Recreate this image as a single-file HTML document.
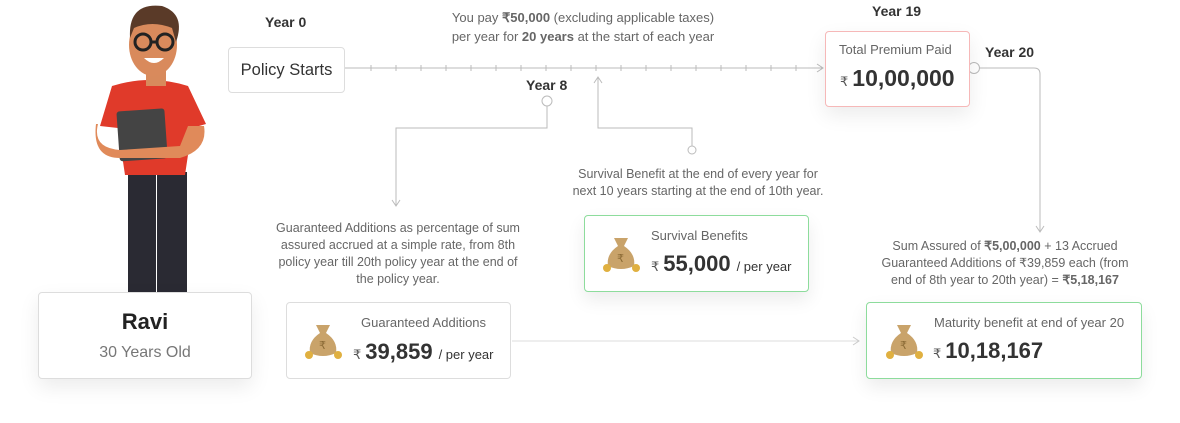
<!DOCTYPE html>
<html><head><meta charset="utf-8"><style>
body{margin:0;width:1180px;height:423px;background:#fff;position:relative;overflow:hidden;font-family:"Liberation Sans",sans-serif;color:#333}
.a{position:absolute}
.t{position:absolute;color:#666;font-size:12.5px;line-height:17px;text-align:center}
.y{position:absolute;font-weight:bold;font-size:14px;color:#333}
.box{position:absolute;background:#fff;border:1.5px solid #ddd;border-radius:4px;box-sizing:border-box}
.g{border-color:#8ddc9c;box-shadow:0 8px 18px rgba(0,0,0,.08)}
.lab{position:absolute;font-size:13px;color:#666}
.val{position:absolute;font-weight:bold;color:#333;white-space:nowrap}
.val small{font-size:13px;font-weight:normal;color:#555;margin-right:4px}
.val i{font-style:normal;font-size:13px;font-weight:normal;color:#333;margin-left:6px}
</style></head><body>
<svg class="a" style="left:0;top:0" width="1180" height="423">
<g stroke="#bbb" stroke-width="1" fill="none">
<line x1="345" y1="68" x2="822" y2="68"/>
<path d="M817 64 L823 68 L817 72"/>
<path d="M547 106 V128 H396 V205"/><path d="M392 200 L396 206 L400 200"/>
<path d="M598 78 V128 H692 V146"/><path d="M594 83 L598 77 L602 83"/>
<circle cx="692" cy="150" r="4" fill="#fff"/>
<circle cx="547" cy="101" r="5" fill="#fff"/>
<path d="M979 68 H1034 Q1040 68 1040 74 V231"/><path d="M1036 226 L1040 232 L1044 226"/>
<circle cx="974" cy="68" r="5.5" fill="#fff"/>
<line x1="512" y1="341" x2="858" y2="341" stroke="#ddd"/><path d="M853 337 L859 341 L853 345" stroke="#ccc"/>
</g>
<g stroke="#bbb">
<line x1="371" y1="65" x2="371" y2="71"/><line x1="396" y1="65" x2="396" y2="71"/><line x1="421" y1="65" x2="421" y2="71"/><line x1="446" y1="65" x2="446" y2="71"/><line x1="471" y1="65" x2="471" y2="71"/><line x1="496" y1="65" x2="496" y2="71"/><line x1="521" y1="65" x2="521" y2="71"/><line x1="546" y1="65" x2="546" y2="71"/><line x1="571" y1="65" x2="571" y2="71"/><line x1="596" y1="65" x2="596" y2="71"/><line x1="621" y1="65" x2="621" y2="71"/><line x1="646" y1="65" x2="646" y2="71"/><line x1="671" y1="65" x2="671" y2="71"/><line x1="696" y1="65" x2="696" y2="71"/><line x1="721" y1="65" x2="721" y2="71"/><line x1="746" y1="65" x2="746" y2="71"/><line x1="771" y1="65" x2="771" y2="71"/><line x1="796" y1="65" x2="796" y2="71"/>
</g>
<!-- character -->
<g>
<rect x="128" y="172" width="28" height="122" fill="#2a2a33"/><rect x="157" y="172" width="30" height="122" fill="#2a2a33"/>
<path d="M112 86 Q150 74 188 86 L206 124 L192 128 L185 175 L125 175 L118 128 L100 126 Z" fill="#e03a2a"/>
<rect x="146" y="70" width="20" height="16" fill="#d88a5c"/>
<ellipse cx="153" cy="45" rx="24" ry="31" fill="#d98a5c"/>
<path d="M130 38 Q128 2 162 6 Q186 14 176 42 L172 28 Q152 20 134 28 Z" fill="#5a3a28"/>
<g stroke="#222" stroke-width="3" fill="none"><circle cx="143" cy="42" r="8"/><circle cx="165" cy="42" r="8"/><line x1="151" y1="42" x2="157" y2="42"/></g>
<path d="M144 58 Q154 68 164 58 Z" fill="#fff"/>
<rect x="118" y="110" width="48" height="50" rx="3" fill="#444" transform="rotate(-4 140 134)"/>
<path d="M98 124 Q92 148 120 150 L180 146 L188 126 L204 126 Q208 150 180 158 L120 158 Q92 158 96 124Z" fill="#e08a5a"/>
</g>
</svg>
<div class="y" style="left:265px;top:14px">Year 0</div>
<div class="box" style="left:228px;top:47px;width:117px;height:46px;font-size:16.5px;line-height:44px;text-align:center;color:#333">Policy Starts</div>
<div class="t" style="left:400px;top:8px;width:366px;font-size:13px;line-height:19px">You pay <b>₹50,000</b> (excluding applicable taxes)<br>per year for <b>20 years</b> at the start of each year</div>
<div class="y" style="left:526px;top:77px">Year 8</div>
<div class="y" style="left:872px;top:3px">Year 19</div>
<div class="y" style="left:985px;top:44px">Year 20</div>
<div class="box" style="left:825px;top:31px;width:145px;height:76px;border-color:#f6b8b8;box-shadow:0 8px 20px rgba(0,0,0,.08)"></div>
<div class="lab" style="left:839px;top:42px">Total Premium Paid</div>
<div class="val" style="left:840px;top:65px;font-size:23px"><small>₹</small>10,00,000</div>
<div class="t" style="left:548px;top:166px;width:300px">Survival Benefit at the end of every year for<br>next 10 years starting at the end of 10th year.</div>
<div class="t" style="left:258px;top:220px;width:280px">Guaranteed Additions as percentage of sum<br>assured accrued at a simple rate, from 8th<br>policy year till 20th policy year at the end of<br>the policy year.</div>
<div class="t" style="left:860px;top:238px;width:290px">Sum Assured of <b>₹5,00,000</b> + 13 Accrued<br>Guaranteed Additions of ₹39,859 each (from<br>end of 8th year to 20th year) = <b>₹5,18,167</b></div>
<div class="box g" style="left:584px;top:215px;width:225px;height:77px"></div>
<div class="box" style="left:286px;top:302px;width:225px;height:77px"></div>
<div class="box g" style="left:866px;top:302px;width:276px;height:77px"></div>
<div class="box" style="left:38px;top:292px;width:214px;height:87px;box-shadow:0 8px 20px rgba(0,0,0,.08);text-align:center">
<div style="font-weight:bold;font-size:22px;margin-top:16px;color:#222">Ravi</div>
<div style="font-size:16px;color:#777;margin-top:9px">30 Years Old</div></div>
<svg class="a" style="left:600px;top:232px" width="42" height="42"><path d="M14 6 L28 6 L24 14 Q36 22 34 34 Q21 40 8 34 Q6 22 18 14Z" fill="#c9a36a"/><circle cx="7" cy="36" r="4" fill="#e0b040"/><circle cx="36" cy="36" r="4" fill="#e0b040"/><text x="17" y="30" font-size="11" fill="#8a6a35">₹</text></svg>
<svg class="a" style="left:302px;top:319px" width="42" height="42"><path d="M14 6 L28 6 L24 14 Q36 22 34 34 Q21 40 8 34 Q6 22 18 14Z" fill="#c9a36a"/><circle cx="7" cy="36" r="4" fill="#e0b040"/><circle cx="36" cy="36" r="4" fill="#e0b040"/><text x="17" y="30" font-size="11" fill="#8a6a35">₹</text></svg>
<svg class="a" style="left:883px;top:319px" width="42" height="42"><path d="M14 6 L28 6 L24 14 Q36 22 34 34 Q21 40 8 34 Q6 22 18 14Z" fill="#c9a36a"/><circle cx="7" cy="36" r="4" fill="#e0b040"/><circle cx="36" cy="36" r="4" fill="#e0b040"/><text x="17" y="30" font-size="11" fill="#8a6a35">₹</text></svg>
<div class="lab" style="left:651px;top:228px">Survival Benefits</div>
<div class="val" style="left:651px;top:251px;font-size:22px"><small>₹</small>55,000<i>/ per year</i></div>
<div class="lab" style="left:361px;top:315px">Guaranteed Additions</div>
<div class="val" style="left:353px;top:339px;font-size:22px"><small>₹</small>39,859<i>/ per year</i></div>
<div class="lab" style="left:934px;top:315px">Maturity benefit at end of year 20</div>
<div class="val" style="left:933px;top:338px;font-size:22px"><small>₹</small>10,18,167</div>
</body></html>
